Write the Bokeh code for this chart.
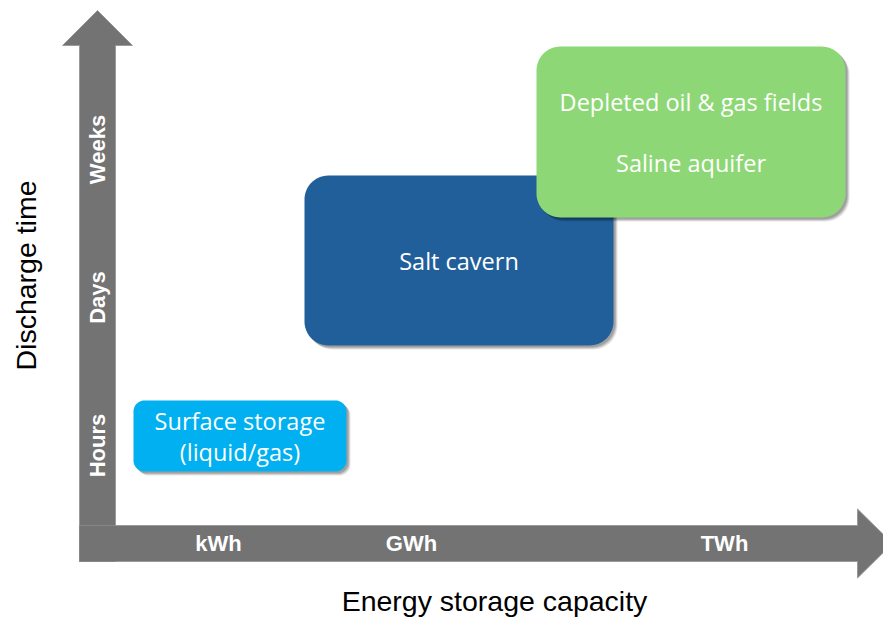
import numpy as np
from bokeh.plotting import figure
from bokeh.models import Range1d
from bokeh.core.properties import value
from bokeh.embed import file_html
from bokeh.resources import INLINE

W, H = 883, 618

# Axis categories and where they sit along each arrow
capacity_labels = ["kWh", "GWh", "TWh"]
capacity_pos = [218, 411, 724]
duration_labels = ["Hours", "Days", "Weeks"]
duration_pos = [173, 321, 469]

# Storage options: extent along capacity (x) and discharge time (y)
box_lines = [["Surface storage", "(liquid/gas)"],
             ["Salt cavern"],
             ["Depleted oil & gas fields", "Saline aquifer"]]
box_cap_lo = [133, 304, 536]
box_cap_hi = [346, 613, 845]
box_dur_lo = [147, 273, 401]
box_dur_hi = [218, 443, 572]
box_colors = ["#00B0F0", "#215F9A", "#8ED776"]
box_radius = [11, 24, 24]
box_line_gap = [31, 0, 61]

ARROW = "#737373"
LABEL_FONT = "Open Sans"
AXIS_FONT = "Liberation Sans"


def rounded_rect(x0, x1, y0, y1, r, n=14):
    xs, ys = [], []
    corners = [(x1 - r, y1 - r, 0.0), (x0 + r, y1 - r, 0.5 * np.pi),
               (x0 + r, y0 + r, np.pi), (x1 - r, y0 + r, 1.5 * np.pi)]
    for cx, cy, a0 in corners:
        t = np.linspace(a0, a0 + 0.5 * np.pi, n)
        xs.extend(cx + r * np.cos(t))
        ys.extend(cy + r * np.sin(t))
    return list(xs), list(ys)


p = figure(width=W, height=H, output_backend="svg", toolbar_location=None,
           x_range=Range1d(0, W), y_range=Range1d(0, H),
           x_axis_location=None, y_axis_location=None, min_border=0,
           outline_line_color=None, background_fill_color="white",
           border_fill_color="white")
p.grid.visible = False

# Axis arrows
shaft = 18
vx, hy = 97, 75
v_start, v_head, v_tip, v_half = 57, 573, 608, 35
h_start, h_head, h_tip, h_half = 79, 857, 892, 34.5
p.patch([vx - shaft, vx + shaft, vx + shaft, vx + v_half, vx, vx - v_half, vx - shaft],
        [v_start, v_start, v_head, v_head, v_tip, v_head, v_head],
        fill_color=ARROW, line_color="#9a9a9a", line_width=1)
p.patch([h_start, h_head, h_head, h_tip, h_head, h_head, h_start],
        [hy - shaft, hy - shaft, hy - h_half, hy, hy + h_half, hy + shaft, hy + shaft],
        fill_color=ARROW, line_color="#9a9a9a", line_width=1)
p.quad(left=vx - shaft, right=vx + shaft, bottom=hy - shaft, top=hy + shaft,
       fill_color=ARROW, line_color=None)

p.text(x=capacity_pos, y=[hy] * len(capacity_pos), text=capacity_labels,
       text_font=value(AXIS_FONT), text_font_style="bold", text_font_size="22px",
       text_color="white", text_align="center", text_baseline="middle")
p.text(x=[vx] * len(duration_pos), y=duration_pos, text=duration_labels, angle=np.pi / 2,
       text_font=value(AXIS_FONT), text_font_style="bold", text_font_size="22px",
       text_color="white", text_align="center", text_baseline="middle")

# Axis titles
p.text(x=[494], y=[18], text=["Energy storage capacity"], text_font=value(AXIS_FONT),
       text_font_size="28.5px", text_color="black", text_align="center",
       text_baseline="middle")
p.text(x=[25], y=[343], text=["Discharge time"], angle=np.pi / 2, text_font=value(AXIS_FONT),
       text_font_size="28.5px", text_color="black", text_align="center", text_baseline="middle")

# Storage boxes with soft drop shadows
for i in range(len(box_lines)):
    x0, x1, y0, y1, r = box_cap_lo[i], box_cap_hi[i], box_dur_lo[i], box_dur_hi[i], box_radius[i]
    for off, alpha in [(4, 0.10), (3, 0.14), (2, 0.18)]:
        sx, sy = rounded_rect(x0 + off, x1 + off, y0 - off, y1 - off, r)
        p.patch(sx, sy, fill_color="black", fill_alpha=alpha, line_color=None)
    bx, by = rounded_rect(x0, x1, y0, y1, r)
    p.patch(bx, by, fill_color=box_colors[i], line_color=None)

    lines = box_lines[i]
    cx, cy = (x0 + x1) / 2, (y0 + y1) / 2
    k = len(lines)
    ty = [cy + box_line_gap[i] * ((k - 1) / 2 - j) for j in range(k)]
    p.text(x=[cx] * k, y=ty, text=lines, text_font=value(LABEL_FONT),
           text_font_size="23.5px", text_color="white", text_align="center",
           text_baseline="middle")

open("out.html", "w").write(file_html(p, INLINE))
